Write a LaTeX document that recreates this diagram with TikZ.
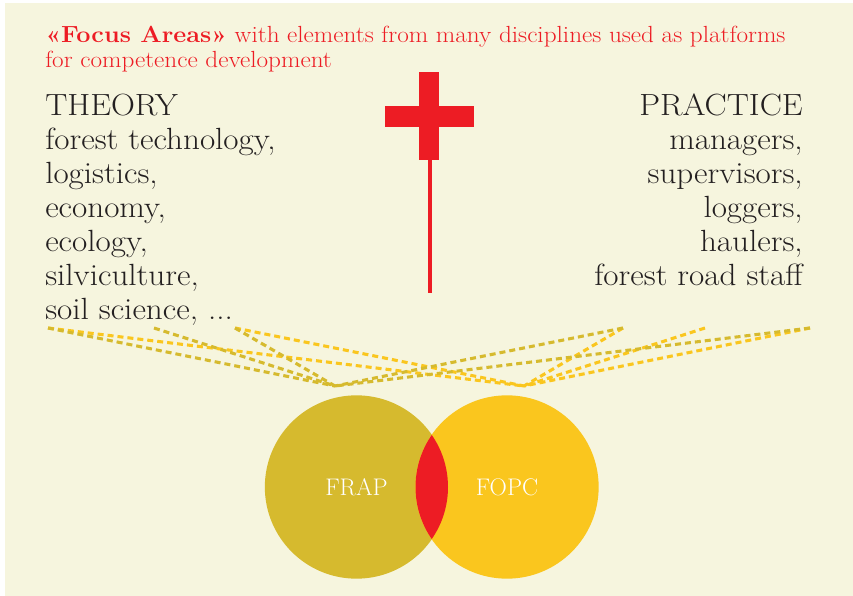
\documentclass[tikz,border=0pt]{standalone}
\usepackage{fontspec}
\usepackage{tikz}
\usetikzlibrary{calc,positioning}

\newfontfamily\largefont[FakeStretch=1.08]{Latin Modern Roman}

\definecolor{fondcol}{RGB}{246,245,222}
\definecolor{rougecol}{RGB}{237,28,36}
\definecolor{frapcol}{RGB}{214,186,46}
\definecolor{fopccol}{RGB}{250,198,30}
\definecolor{textecol}{RGB}{35,31,32}

\begin{document}
\begin{tikzpicture}[x=0.75pt,y=-0.75pt,
    colonne/.style={text=textecol,align=left,inner sep=0pt,font=\largefont\fontsize{23}{25.5}\selectfont},
    disque/.style={circle,minimum size=137.5pt,inner sep=0pt,text=white,font=\fontsize{18}{22}\selectfont},
    lien/.style={line width=2.3pt,dash pattern=on 4.5pt off 3pt}]

    \useasboundingbox (0,0) rectangle (853,596);
    \fill[fondcol] (5,3) rectangle (853,596);

	%Titre en haut
    \node[anchor=base west,inner sep=0pt,text=rougecol,align=left,font=\largefont\fontsize{17.5}{18.75}\selectfont] (titre) at (45,67)
        {\textbf{«Focus Areas»} with elements from many disciplines used as platforms\\for competence development};

    %Colonnes
    \node[colonne,anchor=base west] (theory) at (45,319)
        {THEORY\\forest technology,\\logistics,\\economy,\\ecology,\\silviculture,\\soil science, ...};
    \node[colonne,anchor=base east,align=right] (practice) at (803,285)
        {PRACTICE\\managers,\\supervisors,\\loggers,\\haulers,\\forest road staff};

    %Croix
    \fill[rougecol] (419,72) rectangle (439,160);
    \fill[rougecol] (385,106) rectangle (474,127);
    \fill[rougecol] (428,158) rectangle (432,293);

    %Points des liens
    \coordinate (t1) at (48,328);
    \coordinate (t2) at (154,328);
    \coordinate (t3) at (235,328);
    \coordinate (p1) at (623,328);
    \coordinate (p2) at (705,328);
    \coordinate (p3) at (810,328);
    \coordinate (frap_top) at (335,386);
    \coordinate (fopc_top) at (524,386);

    %Liens
    \draw[lien,fopccol] (t1) -- (fopc_top);
    \draw[lien,fopccol] (t3) -- (fopc_top);
    \draw[lien,fopccol] (p1) -- (fopc_top);
    \draw[lien,fopccol] (p2) -- (fopc_top);
    \draw[lien,fopccol] (p3) -- (fopc_top);
    \draw[lien,frapcol] (t1) -- (frap_top);
    \draw[lien,frapcol] (t2) -- (frap_top);
    \draw[lien,frapcol] (t3) -- (frap_top);
    \draw[lien,frapcol] (p1) -- (frap_top);
    \draw[lien,frapcol] (p3) -- (frap_top);

    %Cercles
    \node[disque,fill=frapcol] (frap) at (356.5,487) {FRAP};
    \node[disque,fill=fopccol] (fopc) at (507,487) {FOPC};
    \begin{scope}
        \clip (frap.center) circle[radius=91.5];
        \fill[rougecol] (fopc.center) circle[radius=91.5];
    \end{scope}

\end{tikzpicture}
\end{document}
